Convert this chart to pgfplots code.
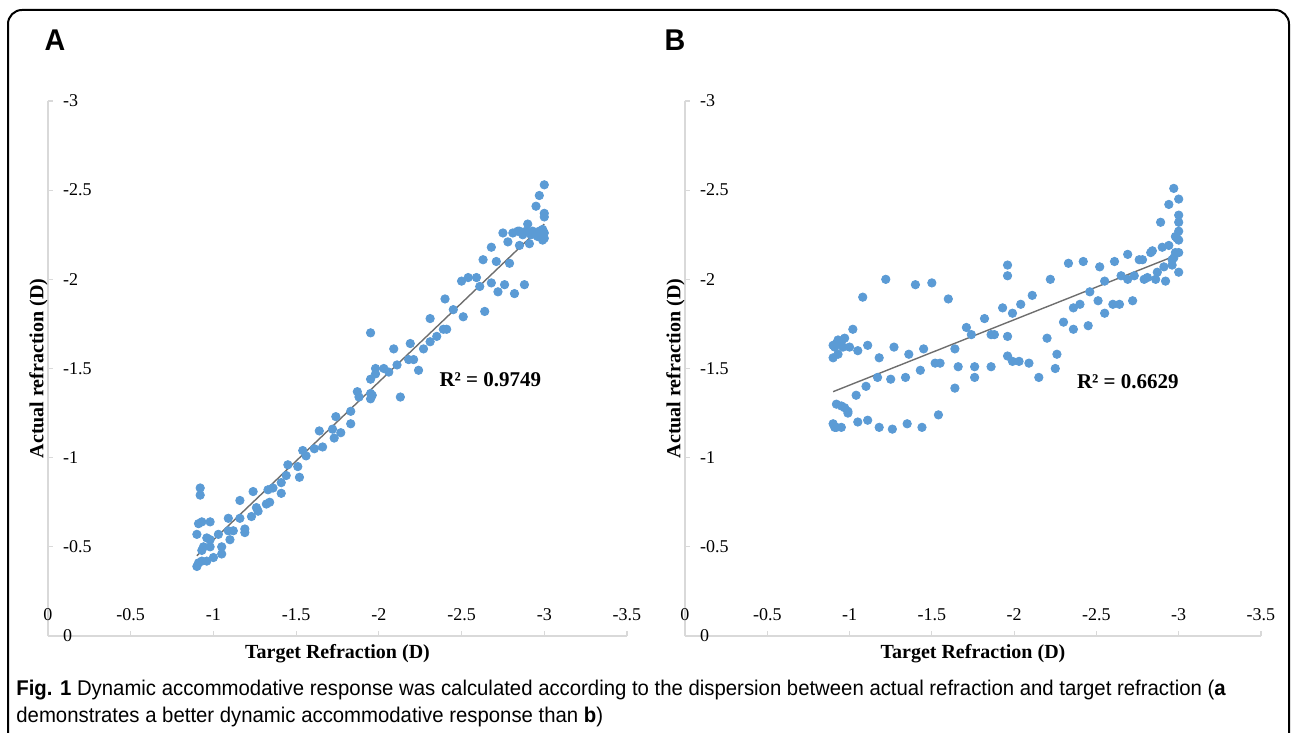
\documentclass[border=0pt]{standalone}
\usepackage{fontspec}
\usepackage{pgfplots}
\usepackage{pgfplotstable}
\pgfplotsset{compat=1.18}
\setmainfont{Liberation Serif}
\newfontfamily\capfont[FakeStretch=0.955]{Liberation Sans}
\definecolor{dotblue}{HTML}{5B9BD5}
\definecolor{axgray}{HTML}{D9D9D9}
\definecolor{trendgray}{HTML}{6E6E6E}

% panel A: target vs actual refraction
\pgfplotstableread{
x y
-3.00 -2.53
-2.97 -2.47
-2.95 -2.41
-3.00 -2.37
-3.00 -2.35
-2.90 -2.31
-2.93 -2.27
-2.97 -2.27
-2.99 -2.28
-3.00 -2.26
-2.96 -2.24
-2.99 -2.22
-3.00 -2.23
-2.95 -2.25
-2.92 -2.25
-2.91 -2.20
-2.85 -2.27
-2.84 -2.27
-2.81 -2.26
-2.75 -2.26
-2.78 -2.21
-2.87 -2.25
-2.85 -2.19
-2.89 -2.27
-2.68 -2.18
-2.63 -2.11
-2.71 -2.10
-2.79 -2.09
-2.50 -1.99
-2.54 -2.01
-2.59 -2.01
-2.61 -1.96
-2.68 -1.98
-2.76 -1.97
-2.72 -1.93
-2.82 -1.92
-2.88 -1.97
-2.40 -1.89
-2.45 -1.83
-2.51 -1.79
-2.64 -1.82
-2.31 -1.78
-2.39 -1.72
-2.41 -1.72
-2.35 -1.68
-2.31 -1.65
-2.27 -1.61
-2.19 -1.64
-2.18 -1.55
-2.21 -1.55
-2.24 -1.49
-2.13 -1.34
-1.95 -1.70
-2.09 -1.61
-2.03 -1.50
-2.06 -1.48
-2.11 -1.52
-1.98 -1.50
-1.98 -1.47
-1.95 -1.44
-1.95 -1.36
-1.95 -1.33
-1.96 -1.35
-1.87 -1.37
-1.88 -1.34
-1.83 -1.26
-1.83 -1.19
-1.74 -1.23
-1.72 -1.16
-1.77 -1.14
-1.73 -1.11
-1.64 -1.15
-1.61 -1.05
-1.66 -1.06
-1.54 -1.04
-1.56 -1.01
-1.45 -0.96
-1.51 -0.95
-1.44 -0.90
-1.52 -0.89
-1.41 -0.86
-1.41 -0.80
-1.36 -0.83
-1.33 -0.82
-1.32 -0.74
-1.34 -0.75
-1.27 -0.70
-1.26 -0.72
-1.23 -0.67
-1.24 -0.81
-1.16 -0.76
-1.16 -0.66
-1.09 -0.66
-1.12 -0.59
-1.19 -0.60
-1.19 -0.58
-1.10 -0.54
-1.09 -0.59
-1.03 -0.57
-1.05 -0.50
-1.05 -0.46
-1.00 -0.44
-0.98 -0.64
-0.93 -0.64
-0.91 -0.63
-0.92 -0.79
-0.92 -0.83
-0.90 -0.57
-0.96 -0.55
-0.98 -0.54
-0.98 -0.50
-0.94 -0.50
-0.93 -0.48
-0.91 -0.41
-0.90 -0.39
-0.93 -0.42
-0.96 -0.42
}\dataA

% panel B
\pgfplotstableread{
x y
-0.90 -1.63
-0.92 -1.64
-0.93 -1.66
-0.95 -1.65
-0.96 -1.62
-0.97 -1.67
-1.00 -1.62
-0.91 -1.62
-0.90 -1.56
-0.93 -1.58
-1.02 -1.72
-1.05 -1.60
-1.11 -1.63
-1.08 -1.90
-1.22 -2.00
-1.40 -1.97
-1.50 -1.98
-1.60 -1.89
-1.18 -1.56
-1.27 -1.62
-1.36 -1.58
-1.45 -1.61
-1.52 -1.53
-1.55 -1.53
-1.64 -1.61
-1.71 -1.73
-1.74 -1.69
-1.82 -1.78
-1.86 -1.69
-1.88 -1.69
-1.86 -1.51
-1.76 -1.51
-1.76 -1.45
-1.66 -1.51
-1.64 -1.39
-1.43 -1.49
-1.34 -1.45
-1.25 -1.44
-1.17 -1.45
-1.10 -1.40
-1.04 -1.35
-0.92 -1.30
-0.95 -1.29
-0.97 -1.28
-0.99 -1.26
-0.99 -1.25
-0.90 -1.19
-0.91 -1.17
-0.95 -1.17
-1.05 -1.20
-1.11 -1.21
-1.18 -1.17
-1.26 -1.16
-1.35 -1.19
-1.44 -1.17
-1.54 -1.24
-0.92 -1.17
-1.96 -2.08
-1.96 -2.02
-1.93 -1.84
-1.99 -1.81
-2.04 -1.86
-2.11 -1.91
-2.22 -2.00
-2.33 -2.09
-2.42 -2.10
-2.52 -2.07
-2.46 -1.93
-2.55 -1.99
-2.51 -1.88
-2.36 -1.84
-2.40 -1.86
-2.30 -1.76
-2.36 -1.72
-2.45 -1.74
-2.55 -1.81
-2.60 -1.86
-2.64 -1.86
-2.61 -2.10
-2.69 -2.14
-2.65 -2.02
-2.69 -2.00
-2.73 -2.02
-2.72 -1.88
-2.76 -2.11
-2.78 -2.11
-2.81 -2.01
-2.79 -2.00
-2.83 -2.15
-2.84 -2.16
-2.86 -2.00
-2.87 -2.04
-2.91 -2.07
-2.90 -2.18
-2.92 -1.99
-2.94 -2.19
-2.96 -2.08
-2.96 -2.11
-2.89 -2.32
-2.94 -2.42
-2.97 -2.51
-3.00 -2.45
-3.00 -2.36
-3.00 -2.32
-3.00 -2.27
-2.98 -2.24
-2.99 -2.23
-3.00 -2.22
-3.00 -2.15
-2.98 -2.15
-3.00 -2.04
-2.97 -2.12
-1.96 -1.68
-1.96 -1.57
-1.99 -1.54
-2.03 -1.54
-2.09 -1.53
-2.15 -1.45
-2.20 -1.67
-2.26 -1.58
-2.25 -1.50
}\dataB

\pgfplotsset{
  panel/.style={
    scale only axis,
    height=267.5pt,
    xmin=-3.5, xmax=0, ymin=-3, ymax=0,
    x dir=reverse, y dir=reverse,
    axis x line=bottom, axis y line=left,
    axis line style={draw=axgray, line width=0.75pt, -},
    xtick={0,-0.5,-1,-1.5,-2,-2.5,-3,-3.5},
    xticklabels={0,-0.5,-1,-1.5,-2,-2.5,-3,-3.5},
    ytick={0,-0.5,-1,-1.5,-2,-2.5,-3},
    yticklabels={0,-0.5,-1,-1.5,-2,-2.5,-3},
    tick align=inside,
    major tick length=2.5pt,
    tick style={draw=axgray, line width=0.6pt},
    xticklabel style={font=\fontsize{9}{10}\selectfont, anchor=base, yshift=7.75pt},
    yticklabel style={font=\fontsize{9}{10}\selectfont, anchor=west, xshift=4pt},
    xlabel={Target Refraction (D)},
    ylabel={Actual refraction (D)},
    every axis x label/.style={at={(axis description cs:0.5,0)}, anchor=north,
      inner sep=0pt, yshift=-4pt, font=\fontsize{10}{12}\selectfont\bfseries},
    every axis y label/.style={at={(axis description cs:0,0.5)}, rotate=90, anchor=south,
      inner sep=0pt, font=\fontsize{10}{12}\selectfont\bfseries},
  },
  dots/.style={only marks, mark=*, mark size=2.1pt, color=dotblue,
    mark options={draw=dotblue, fill=dotblue, line width=0.4pt}},
  trend/.style={draw=trendgray, line width=0.7pt, no marks},
}

\begin{document}
\begin{tikzpicture}
\useasboundingbox (0,0) rectangle (646pt,366.5pt);
\draw[line width=1pt, rounded corners=7pt] (4pt,-30pt) rectangle (644.5pt,361.5pt);

\node[font=\capfont\bfseries\fontsize{15}{18}\selectfont] at (27.5pt,346.5pt) {A};
\node[font=\capfont\bfseries\fontsize{15}{18}\selectfont] at (337.5pt,346.5pt) {B};

\begin{axis}[panel, width=289.5pt, at={(24pt,48.5pt)}, anchor=south west]
\addplot[dots] table[x=x, y=y] {\dataA};
\addplot[trend] coordinates {(-0.9,-0.45) (-3.0,-2.31)};
\node[font=\fontsize{10.5}{12}\selectfont\bfseries] at (axis cs:-2.674,-1.436) {R² = 0.9749};
\end{axis}

\begin{axis}[panel, width=288pt, at={(342.5pt,48.5pt)}, anchor=south west]
\addplot[dots] table[x=x, y=y] {\dataB};
\addplot[trend] coordinates {(-0.9,-1.37) (-3.0,-2.14)};
\node[font=\fontsize{10.5}{12}\selectfont\bfseries] at (axis cs:-2.691,-1.425) {R² = 0.6629};
\end{axis}

\node[anchor=base west, inner sep=0pt, font=\capfont\fontsize{10.65}{12}\selectfont] at (8pt,18.5pt)
  {\textbf{Fig. 1} Dynamic accommodative response was calculated according to the dispersion between actual refraction and target refraction (\textbf{a}};
\node[anchor=base west, inner sep=0pt, font=\capfont\fontsize{10.65}{12}\selectfont] at (8pt,5pt)
  {demonstrates a better dynamic accommodative response than \textbf{b})};
\end{tikzpicture}
\end{document}
